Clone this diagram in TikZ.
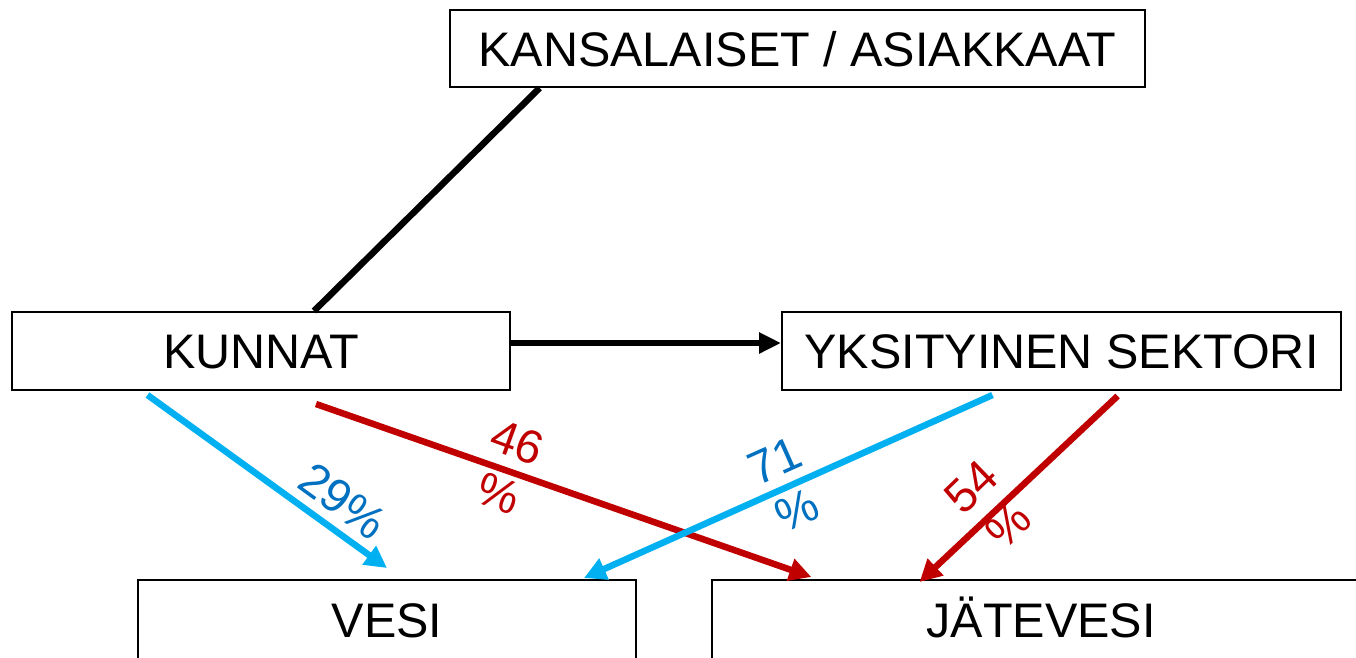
\documentclass[tikz,border=0pt]{standalone}
\usepackage{fontspec}
\setmainfont{Liberation Sans}
\usetikzlibrary{arrows.meta,calc}
\definecolor{lcyan}{HTML}{00B0F0}
\definecolor{lred}{HTML}{C00000}
\definecolor{lblue}{HTML}{0070C0}
\begin{document}
\begin{tikzpicture}[x=1pt,y=-1pt,
  box/.style={draw=black,line width=2pt,inner sep=0pt,fill=white,
    font=\fontsize{48.5}{50}\selectfont,text height=35pt,text depth=0pt},
  conn/.style={line width=6.5pt},
  tip/.style={-{Triangle[length=22pt,width=22pt]}},
  pct/.style={font=\fontsize{47}{54}\selectfont,align=center,inner sep=0pt}]
\useasboundingbox (0,0) rectangle (1356,657);
\clip (0,0) rectangle (1356,657);
\fill[white] (0,0) rectangle (1356,657);
\node[box,minimum width=695pt,minimum height=77pt] (kans) at (797.5,48.5) {KANSALAISET / ASIAKKAAT};
\node[box,minimum width=498pt,minimum height=78pt] (kunnat) at (261,351) {KUNNAT};
\node[box,minimum width=559pt,minimum height=78pt] (yks) at (1061.5,351) {YKSITYINEN SEKTORI};
\node[box,minimum width=498pt,minimum height=80pt] (vesi) at (387,620) {VESI};
\node[box,minimum width=658pt,minimum height=80pt] (jate) at (1041,620) {JÄTEVESI};
% endpoints
\coordinate (k1) at ($(kans.south west)!0.13!(kans.south east)$);
\coordinate (u1) at ($(kunnat.north west)!0.606!(kunnat.north east)$);
\coordinate (ue) at ($(kunnat.east)+(0,-8)$);
\coordinate (yw) at ($(yks.west)+(0,-8)$);
\coordinate (ua) at ($(kunnat.south west)!0.273!(kunnat.south east)+(0,4)$);
\coordinate (ub) at ($(kunnat.south west)!0.61!(kunnat.south east)+(0,13)$);
\coordinate (ya) at ($(yks.south west)!0.377!(yks.south east)+(0,4)$);
\coordinate (yb) at ($(yks.south west)!0.6!(yks.south east)+(0,5)$);
\coordinate (va) at ($(vesi.north west)!0.5!(vesi.north east)+(0,-11)$);
\coordinate (vb) at ($(vesi.north west)!0.894!(vesi.north east)+(0,-1)$);
\coordinate (ja) at ($(jate.north west)!0.152!(jate.north east)+(0,-2)$);
\coordinate (jb) at ($(jate.north west)!0.316!(jate.north east)+(0,3)$);
% connectors
\draw[conn] (k1) -- (u1);
\draw[conn,-{Triangle[length=22pt,width=20pt]}] (ue) -- (yw);
\draw[conn,tip,lcyan] (ua) -- (va);
\draw[conn,tip,lred] (ub) -- (ja);
\draw[conn,tip,lcyan] (ya) -- (vb);
\draw[conn,tip,lred] (yb) -- (jb);
% labels
\node[pct,text=lblue,rotate=-36] (l29) at (343,501) {29\%};
\node[pct,text=lred,rotate=-20] (l46) at (508,468) {46\\\%};
\node[pct,text=lblue,rotate=24] (l71) at (786,486) {71\\\%};
\node[pct,text=lred,rotate=44] (l54) at (990,506) {54\\\%};
\end{tikzpicture}
\end{document}
